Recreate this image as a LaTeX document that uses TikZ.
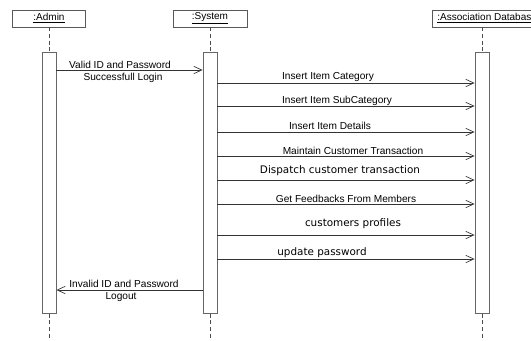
\documentclass[tikz,border=0pt]{standalone}
\usepackage{fontspec}
\setmainfont{Liberation Sans}
\newfontfamily\dejavu{DejaVu Sans}
\usetikzlibrary{arrows.meta}

\tikzset{
  head/.style={draw=black!65, line width=0.6pt, minimum height=12.75pt, inner xsep=3.75pt, inner ysep=0pt, font=\fontsize{7.5}{9}\selectfont},
  actbar/.style={draw=black!60, line width=0.6pt, fill=white, minimum width=10.5pt, minimum height=195.75pt, inner sep=0pt, anchor=north},
  life/.style={draw=black!70, line width=0.6pt, dash pattern=on 3pt off 2pt},
  msg/.style={draw=black!80, line width=0.5pt, -{Straight Barb[length=6pt,width=5.5pt,line width=0.5pt]}},
  lbl/.style={inner sep=0.75pt, font=\fontsize{7.6}{9}\selectfont},
  lbldv/.style={inner sep=0.75pt, font=\dejavu\fontsize{7.8}{9}\selectfont},
}

\begin{document}
\begin{tikzpicture}[x=0.75pt,y=0.75pt,yscale=-1,xscale=1]
\clip (0,0) rectangle (531,340);
% Lifeline heads
\node[head, minimum width=54.75pt] (admin) at (49,18.5) {\underline{:Admin}};
\node[head, minimum width=55.5pt] (system) at (210,18.5) {\underline{:System}};
\node[head, anchor=west] (db) at (432,18.5) {\underline{:Association Database}};
% Activation bars
\node[actbar] (adminbar) at (49,52) {};
\node[actbar] (sysbar) at (210,52) {};
\node[actbar] (dbbar) at (482,52) {};
% Dashed lifelines
\draw[life] (admin.south) -- (adminbar.north);
\draw[life] (adminbar.south) -- (adminbar.south |- 0,340);
\draw[life] (system.south) -- (sysbar.north);
\draw[life] (sysbar.south) -- (sysbar.south |- 0,340);
\draw[life] (db.south -| dbbar.north) -- (dbbar.north);
\draw[life] (dbbar.south) -- (dbbar.south |- 0,340);
% Login message
\draw[msg] (adminbar.east |- 0,70) -- (sysbar.west |- 0,70);
\node[lbl] (valid) at (120,64.5) {Valid ID and Password};
\node[lbl] (login) at (123,78) {Successfull Login};
% System to database messages
\foreach \y/\ly/\lx/\f/\t [count=\i] in {
    83/77.5/328/lbl/Insert Item Category,
    106/100.5/337/lbl/Insert Item SubCategory,
    132/125.5/330/lbl/Insert Item Details,
    156/150.5/353/lbl/Maintain Customer Transaction,
    180/171/340/lbldv/Dispatch customer transaction,
    204/198.5/346/lbl/Get Feedbacks From Members,
    235/224/353/lbldv/customers profiles,
    259/253/322/lbldv/update password} {
  \draw[msg] (sysbar.east |- 0,\y) -- (dbbar.west |- 0,\y);
  \node[\f] (m\i) at (\lx,\ly) {\t};
}
% Logout message
\draw[msg] (sysbar.west |- 0,290) -- (adminbar.east |- 0,290);
\node[lbl] (invalid) at (124,284) {Invalid ID and Password};
\node[lbl] (logout) at (121,297.5) {Logout};
\end{tikzpicture}
\end{document}
